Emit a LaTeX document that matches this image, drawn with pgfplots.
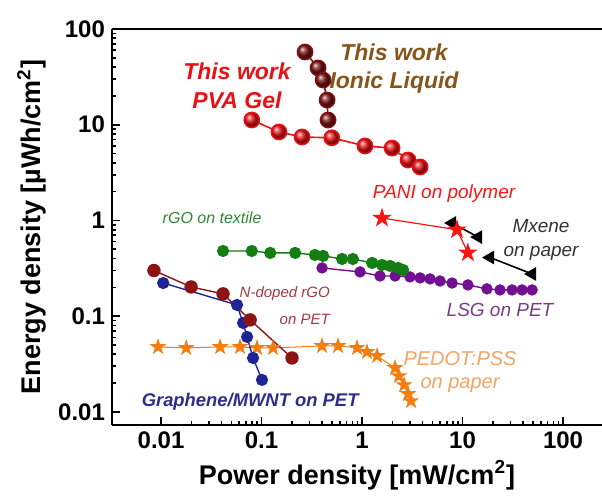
\documentclass[border=0pt]{standalone}
\usepackage{pgfplots}
\pgfplotsset{compat=1.18}
\usepackage{fontspec}
\setmainfont{Liberation Sans}
\definecolor{pvared}{RGB}{232,18,22}
\definecolor{ionic}{RGB}{125,18,18}
\definecolor{ionictext}{RGB}{135,85,25}
\definecolor{panired}{RGB}{250,20,20}
\definecolor{rgogreen}{RGB}{20,125,20}
\definecolor{lsgpurple}{RGB}{115,15,145}
\definecolor{ndoped}{RGB}{140,20,20}
\definecolor{gblue}{RGB}{30,35,150}
\definecolor{pedot}{RGB}{245,125,15}
\definecolor{pedottext}{RGB}{240,165,100}
\definecolor{ndtext}{RGB}{165,55,65}
\definecolor{lsgtext}{RGB}{120,60,135}
\definecolor{rgotext}{RGB}{50,135,50}
\definecolor{gtext}{RGB}{45,45,140}
\pgfdeclareplotmark{fstar}{%
  \pgfpathmoveto{\pgfqpoint{0pt}{\pgfplotmarksize}}%
  \pgfpathlineto{\pgfqpoint{-0.2245\pgfplotmarksize}{0.3090\pgfplotmarksize}}%
  \pgfpathlineto{\pgfqpoint{-0.9511\pgfplotmarksize}{0.3090\pgfplotmarksize}}%
  \pgfpathlineto{\pgfqpoint{-0.3633\pgfplotmarksize}{-0.1180\pgfplotmarksize}}%
  \pgfpathlineto{\pgfqpoint{-0.5878\pgfplotmarksize}{-0.8090\pgfplotmarksize}}%
  \pgfpathlineto{\pgfqpoint{0pt}{-0.382\pgfplotmarksize}}%
  \pgfpathlineto{\pgfqpoint{0.5878\pgfplotmarksize}{-0.8090\pgfplotmarksize}}%
  \pgfpathlineto{\pgfqpoint{0.3633\pgfplotmarksize}{-0.1180\pgfplotmarksize}}%
  \pgfpathlineto{\pgfqpoint{0.9511\pgfplotmarksize}{0.3090\pgfplotmarksize}}%
  \pgfpathlineto{\pgfqpoint{0.2245\pgfplotmarksize}{0.3090\pgfplotmarksize}}%
  \pgfpathclose
  \pgfusepathqfillstroke}
\begin{document}
\begin{tikzpicture}
\path[use as bounding box] (-56pt,-36.5pt) rectangle (245pt,212.5pt);
\begin{axis}[
  scale only axis, width=245pt, height=198pt,
  xmode=log, ymode=log,
  xmin=0.00325, xmax=244, ymin=0.0073, ymax=100,
  axis x line=box, axis y line=left,
  axis line style={-, line width=1.2pt},
  xtick pos=left, ytick pos=left,
  tick align=inside,
  major tick length=4pt, minor tick length=2pt,
  every tick/.style={black, line width=0.8pt},
  xtick={0.01,0.1,1,10,100}, xticklabels={0.01,0.1,1,10,100},
  ytick={0.01,0.1,1,10,100}, yticklabels={0.01,0.1,1,10,100},
  /pgf/number format/assume math mode=true,
  ticklabel style={font=\fontsize{12}{14}\selectfont\bfseries},
  xlabel={Power density [mW/cm\textsuperscript{2}]},
  ylabel={Energy density [µWh/cm\textsuperscript{2}]},
  label style={font=\fontsize{13.5}{15}\selectfont\bfseries},
  xlabel style={yshift=1pt},
  ylabel style={yshift=-1pt},
  clip=false,
]
% labels drawn first so markers sit on top
\node[font=\fontsize{11.5}{14}\selectfont\bfseries\itshape, text=ionictext, align=center] at (axis cs:2.08,39) {This work\\Ionic Liquid};
\node[font=\fontsize{11.5}{14.5}\selectfont\bfseries\itshape, text=pvared, align=center] at (axis cs:0.057,25.4) {This work\\PVA Gel};

% PEDOT:PSS on paper
\addplot[pedot, line width=0.5pt, mark=fstar, mark size=3.6pt, mark options={solid, fill=pedot, draw=pedot}] table[row sep=\\]{
x y\\
0.00933 0.0477\\ 0.0178 0.0466\\ 0.0387 0.0477\\ 0.0611 0.0477\\ 0.0902 0.0466\\ 0.130 0.0466\\
0.40 0.0489\\ 0.577 0.0489\\ 0.892 0.0466\\ 1.12 0.0423\\ 1.41 0.0385\\ 2.13 0.0288\\
2.33 0.0237\\ 2.62 0.0191\\ 2.87 0.0154\\ 3.07 0.0130\\
};
% Graphene/MWNT on PET
\addplot[gblue, line width=0.7pt, mark=*, mark size=2.7pt] table[row sep=\\]{
x y\\
0.0105 0.222\\ 0.057 0.131\\ 0.0655 0.085\\ 0.0718 0.0607\\ 0.0823 0.0366\\ 0.101 0.0216\\
};
% N-doped rGO on PET
\addplot[ndoped, line width=0.7pt, mark=*, mark size=3pt] table[row sep=\\]{
x y\\
0.0085 0.30\\ 0.0199 0.202\\ 0.0414 0.171\\ 0.077 0.0914\\ 0.201 0.0366\\
};
% LSG on PET
\addplot[lsgpurple, line width=0.7pt, mark=*, mark size=2.5pt] table[row sep=\\]{
x y\\
0.40 0.319\\ 0.955 0.290\\ 1.51 0.263\\ 2.13 0.263\\ 3.0 0.257\\ 3.78 0.251\\ 4.75 0.245\\
5.97 0.233\\ 7.87 0.222\\ 11.3 0.212\\ 17.5 0.193\\ 23.6 0.188\\ 31.1 0.188\\ 39.1 0.188\\ 49.2 0.188\\
};
% rGO on textile
\addplot[rgogreen, line width=0.7pt, mark=*, mark size=2.7pt] table[row sep=\\]{
x y\\
0.0414 0.48\\ 0.080 0.48\\ 0.122 0.458\\ 0.216 0.458\\ 0.340 0.436\\ 0.41 0.426\\ 0.632 0.396\\
0.81 0.396\\ 1.26 0.36\\ 1.58 0.343\\ 1.90 0.335\\ 2.28 0.319\\ 2.56 0.304\\
};
% Mxene on paper
\addplot[black, line width=0.8pt, mark=triangle*, mark size=3.2pt, mark options={rotate=90}] table[row sep=\\]{
x y\\
7.87 0.94\\ 14.3 0.67\\
};
\addplot[black, line width=0.8pt, mark=triangle*, mark size=3.2pt, mark options={rotate=90}] table[row sep=\\]{
x y\\
18.8 0.41\\ 49.2 0.276\\
};
% PANI on polymer
\addplot[panired, line width=0.6pt, mark=fstar, mark size=4.2pt, mark options={fill=panired, draw=panired}] table[row sep=\\]{
x y\\
1.58 1.06\\ 8.8 0.80\\ 11.3 0.46\\
};
% This work - PVA Gel
\addplot[pvared, line width=0.8pt, mark=ball, mark size=3.8pt, mark options={ball color=pvared}] table[row sep=\\]{
x y\\
0.080 11.2\\ 0.149 8.4\\ 0.253 7.45\\ 0.50 7.3\\ 1.07 6.0\\ 1.99 5.7\\ 2.87 4.28\\ 3.78 3.62\\
};
% This work - Ionic Liquid
\addplot[ionic, line width=0.8pt, mark=ball, mark size=3.8pt, mark options={ball color=ionic}] table[row sep=\\]{
x y\\
0.271 57.5\\ 0.365 39.2\\ 0.41 29.3\\ 0.449 18.1\\ 0.459 11.2\\
};

% annotations
\node[font=\fontsize{9.5}{11}\selectfont\itshape, text=panired] at (axis cs:6.55,1.89) {PANI on polymer};
\node[font=\fontsize{9.5}{12}\selectfont\itshape, text=black!80, align=center] at (axis cs:60.4,0.625) {Mxene\\on paper};
\node[font=\fontsize{8}{10}\selectfont\itshape, text=rgotext] at (axis cs:0.0322,1.06) {rGO on textile};
\node[font=\fontsize{7.5}{13.5}\selectfont\itshape, text=ndtext, align=right, anchor=east, inner sep=0pt] at (axis cs:0.481,0.128) {N-doped rGO\\on PET};
\node[font=\fontsize{9.5}{11}\selectfont\itshape, text=lsgtext] at (axis cs:23.6,0.116) {LSG on PET};
\node[font=\fontsize{10}{11.5}\selectfont\itshape, text=pedottext, align=center] at (axis cs:9.44,0.0262) {PEDOT:PSS\\on paper};
\node[font=\fontsize{9.2}{10}\selectfont\bfseries\itshape, text=gtext] at (axis cs:0.077,0.0127) {Graphene/MWNT on PET};
\end{axis}
\end{tikzpicture}
\end{document}
